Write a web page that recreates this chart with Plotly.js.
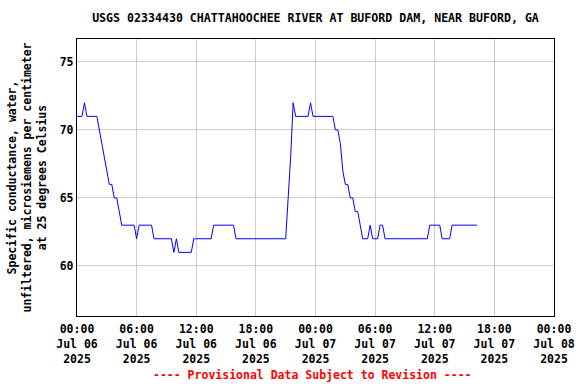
<!DOCTYPE html>
<html>
<head>
<meta charset="utf-8">
<script src="https://cdn.plot.ly/plotly-3.0.1.min.js"></script>
<style>html,body{margin:0;padding:0;background:#fff;}#chart{width:576px;height:384px;}</style>
</head>
<body>
<div id="chart"></div>
<script>
// Breakpoints of the 15-minute record (values between listed points are constant/linear)
const times = [
  "2025-07-06 00:00","2025-07-06 00:30","2025-07-06 00:45","2025-07-06 01:00","2025-07-06 02:00",
  "2025-07-06 02:15","2025-07-06 02:30","2025-07-06 02:45","2025-07-06 03:00","2025-07-06 03:15",
  "2025-07-06 03:30","2025-07-06 03:45","2025-07-06 04:00","2025-07-06 04:15","2025-07-06 04:30",
  "2025-07-06 05:45","2025-07-06 06:00","2025-07-06 06:15","2025-07-06 07:30","2025-07-06 07:45",
  "2025-07-06 09:30","2025-07-06 09:45","2025-07-06 10:00","2025-07-06 10:15","2025-07-06 11:30",
  "2025-07-06 11:45","2025-07-06 13:30","2025-07-06 13:45","2025-07-06 15:45","2025-07-06 16:00",
  "2025-07-06 21:00","2025-07-06 21:15","2025-07-06 21:30","2025-07-06 21:45","2025-07-06 22:00",
  "2025-07-06 23:15","2025-07-06 23:30","2025-07-06 23:45",
  "2025-07-07 01:45","2025-07-07 02:00","2025-07-07 02:15","2025-07-07 02:30","2025-07-07 02:45",
  "2025-07-07 03:00","2025-07-07 03:15","2025-07-07 03:30","2025-07-07 03:45","2025-07-07 04:00",
  "2025-07-07 04:15","2025-07-07 04:30","2025-07-07 04:45","2025-07-07 05:15","2025-07-07 05:30",
  "2025-07-07 05:45","2025-07-07 06:15","2025-07-07 06:30","2025-07-07 06:45","2025-07-07 07:00",
  "2025-07-07 11:15","2025-07-07 11:30","2025-07-07 12:30","2025-07-07 12:45","2025-07-07 13:30",
  "2025-07-07 13:45","2025-07-07 16:15"
];
const conductance = [
  71,71,72,71,71,
  70,69,68,67,66,
  66,65,65,64,63,
  63,62,63,63,62,
  62,61,62,61,61,
  62,62,63,63,62,
  62,65,68,72,71,
  71,72,71,
  71,70,70,69,67,
  66,66,65,65,64,
  64,63,62,62,63,
  62,62,63,63,62,
  62,63,63,62,62,
  63,63
];
const xTickVals = ["2025-07-06 00:00","2025-07-06 06:00","2025-07-06 12:00","2025-07-06 18:00",
  "2025-07-07 00:00","2025-07-07 06:00","2025-07-07 12:00","2025-07-07 18:00","2025-07-08 00:00"];
const xTickText = ["00:00<br>Jul 06<br>2025","06:00<br>Jul 06<br>2025","12:00<br>Jul 06<br>2025",
  "18:00<br>Jul 06<br>2025","00:00<br>Jul 07<br>2025","06:00<br>Jul 07<br>2025",
  "12:00<br>Jul 07<br>2025","18:00<br>Jul 07<br>2025","00:00<br>Jul 08<br>2025"];
const yTickVals = [60, 65, 70, 75];

const F = "DejaVu Sans Mono, Liberation Mono, monospace";
const trace = {
  x: times, y: conductance, type: "scatter", mode: "lines",
  line: {color: "#0000ff", width: 1}, hoverinfo: "none"
};
const layout = {
  width: 576, height: 384,
  margin: {l: 77, r: 22, t: 39, b: 68, pad: 0},
  paper_bgcolor: "#fff", plot_bgcolor: "#fff",
  showlegend: false,
  title: {text: "USGS 02334430 CHATTAHOOCHEE RIVER AT BUFORD DAM, NEAR BUFORD, GA",
    font: {family: F, size: 11.6, color: "#000", weight: "bold"},
    x: 0.5, xref: "paper", xanchor: "center", y: 0.952, yref: "container", yanchor: "middle"},
  xaxis: {
    type: "date", range: ["2025-07-06 00:00", "2025-07-08 00:00"],
    tickmode: "array", tickvals: xTickVals, ticktext: xTickText,
    tickfont: {family: F, size: 11.5, color: "#000", weight: "bold"},
    ticklabelstandoff: 2,
    showgrid: true, gridcolor: "#cccccc", gridwidth: 1,
    showline: true, linecolor: "#000", linewidth: 1.2, mirror: true,
    ticks: "", ticklen: 0, zeroline: false, fixedrange: true
  },
  yaxis: {
    range: [56.32, 76.69], tickmode: "array", tickvals: yTickVals,
    tickfont: {family: F, size: 11.5, color: "#000", weight: "bold"},
    showgrid: true, gridcolor: "#cccccc", gridwidth: 1,
    showline: true, linecolor: "#000", linewidth: 1.2, mirror: true,
    ticks: "", ticklen: 0, zeroline: false, automargin: false,
    title: {text: "Specific conductance, water,<br>unfiltered, microsiemens per centimeter<br>at 25 degrees Celsius",
      font: {family: F, size: 11.5, color: "#000", weight: "bold"}, standoff: 10}
  },
  annotations: [{
    text: "---- Provisional Data Subject to Revision ----",
    xref: "paper", yref: "paper", x: 0.494, y: -0.213, xanchor: "center", yanchor: "middle",
    showarrow: false, font: {family: F, size: 11.5, color: "#ff0000", weight: "bold"}
  }]
};
Plotly.newPlot("chart", [trace], layout, {staticPlot: true, displayModeBar: false});
</script>
</body>
</html>
